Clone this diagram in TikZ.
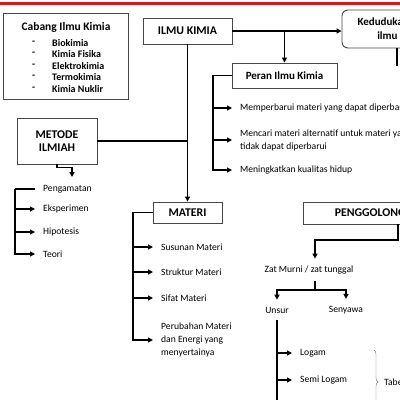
\documentclass[tikz,border=0pt]{standalone}
\usepackage{fontspec}
\setmainfont{Carlito}
\usepackage{tikz}
\usetikzlibrary{arrows.meta, positioning, calc, decorations.pathreplacing}
\definecolor{topred}{RGB}{218, 24, 24}
\definecolor{boxgray}{RGB}{70, 70, 70}
\definecolor{bracegray}{RGB}{110, 110, 110}
\tikzset{
  >=Stealth,
  flowarrow/.style={-{Stealth[length=5pt, width=5pt, inset=0pt]}, line width=1.2pt, black},
  flowline/.style={line width=1.2pt, black},
  titlebox/.style={draw=boxgray, line width=0.9pt, fill=white, inner sep=0pt, font=\fontsize{11.8}{13}\selectfont\bfseries, align=center},
  roundbox/.style={titlebox, rounded corners=6pt},
  itemtext/.style={anchor=west, inner xsep=8pt, inner ysep=0pt, font=\fontsize{9.6}{13}\selectfont, align=left},
  labeltext/.style={inner xsep=0pt, inner ysep=7pt, font=\fontsize{9.6}{13}\selectfont},
  listtext/.style={anchor=west, inner sep=0pt, font=\fontsize{10}{11}\selectfont\bfseries}
}

\begin{document}
\begin{tikzpicture}[x=1pt, y=-1pt]
    \useasboundingbox (0,0) rectangle (400,400);
    \clip (0,0) rectangle (400,400);

    % --- TOP BAR ---
    \coordinate (barL) at (0,3);
    \coordinate (barR) at (400,3);
    \draw[topred, line width=3pt] (barL) -- (barR);

    % --- CABANG ILMU KIMIA ---
    \node[titlebox, minimum width=125pt, minimum height=86pt] (cabang) at (65.5,56) {};
    \node[font=\fontsize{11.5}{13}\selectfont\bfseries] (cabangT) at (66,27) {Cabang Ilmu Kimia};
    \node[listtext] (dash1) at (32,43) {-};
    \node[listtext] (cab1) at (52,43) {Biokimia};
    \node[listtext] (dash2) at (32,54) {-};
    \node[listtext] (cab2) at (52,54) {Kimia Fisika};
    \node[listtext] (dash3) at (32,66) {-};
    \node[listtext] (cab3) at (52,66) {Elektrokimia};
    \node[listtext] (dash4) at (32,77) {-};
    \node[listtext] (cab4) at (52,77) {Termokimia};
    \node[listtext] (dash5) at (32,89) {-};
    \node[listtext] (cab5) at (52,89) {Kimia Nuklir};

    % --- ILMU KIMIA ---
    \node[titlebox, minimum width=89pt, minimum height=26pt] (ilmu) at (187.5,31) {ILMU KIMIA};
    \node[roundbox, minimum width=110pt, minimum height=38pt, font=\fontsize{11}{14}\selectfont\bfseries] (kedudukan) at (397,29) {Kedudukan kimia\\ilmu lain};
    \coordinate (keddrop) at (397,66);
    \draw[flowarrow] (ilmu.east) -- (ilmu.east -| kedudukan.west);
    \draw[flowline] (kedudukan.south) -- (keddrop);

    % --- PERAN ILMU KIMIA ---
    \node[titlebox, minimum width=105pt, minimum height=25pt, font=\fontsize{11}{13}\selectfont\bfseries] (peran) at (284.5,75.5) {Peran Ilmu Kimia};
    \draw[flowarrow] (ilmu.east -| peran.north) -- (peran.north);
    \node[itemtext] (peran1) at (232,108) {Memperbarui materi yang dapat diperbarui};
    \node[itemtext] (peran2) at (232,140) {Mencari materi alternatif untuk materi yang\\tidak dapat diperbarui};
    \node[itemtext] (peran3) at (232,170) {Meningkatkan kualitas hidup};
    \coordinate (perantrunk) at (213,75.5);
    \draw[flowarrow] (peran.west) -- (perantrunk) |- (peran3.west);
    \draw[flowarrow] (perantrunk |- peran1.west) -- (peran1.west);
    \draw[flowarrow] (perantrunk |- peran2.west) -- (peran2.west);

    % --- METODE ILMIAH ---
    \node[titlebox, minimum width=80pt, minimum height=46pt] (metode) at (57,141) {METODE\\ILMIAH};
    \coordinate (metodedrop) at (72,177);
    \draw[flowarrow] (metode.south) -- ++(0,3) -| (metodedrop);
    \node[itemtext] (amat) at (35,189) {Pengamatan};
    \node[itemtext] (eksp) at (35,209) {Eksperimen};
    \node[itemtext] (hipo) at (35,232) {Hipotesis};
    \node[itemtext] (teori) at (35,254) {Teori};
    \coordinate (metodetrunk) at (15,189);
    \draw[flowline] (amat.west) -- (metodetrunk);
    \draw[flowarrow] (metodetrunk) |- (teori.west);
    \draw[flowarrow] (metodetrunk |- eksp.west) -- (eksp.west);
    \draw[flowarrow] (metodetrunk |- hipo.west) -- (hipo.west);

    % --- MATERI ---
    \node[titlebox, minimum width=69pt, minimum height=21pt] (materi) at (187.5,212.5) {MATERI};
    \draw[flowline] (metode.east) -- (metode.east -| ilmu.south);
    \draw[flowarrow] (ilmu.south) -- (materi.north);
    \node[itemtext] (materi1) at (153,247) {Susunan Materi};
    \node[itemtext] (materi2) at (153,272) {Struktur Materi};
    \node[itemtext] (materi3) at (153,298) {Sifat Materi};
    \node[itemtext] (materi4) at (153,340) {Perubahan Materi\\dan Energi yang\\menyertainya};
    \coordinate (materitrunk) at (133,212.5);
    \draw[flowarrow] (materi.west) -- (materitrunk) |- (materi4.west);
    \draw[flowarrow] (materitrunk |- materi1.west) -- (materi1.west);
    \draw[flowarrow] (materitrunk |- materi2.west) -- (materi2.west);
    \draw[flowarrow] (materitrunk |- materi3.west) -- (materi3.west);

    % --- PENGGOLONGAN MATERI ---
    \node[titlebox, minimum width=190pt, minimum height=22pt] (golong) at (398,213) {PENGGOLONGAN MATERI};
    \node[labeltext] (zat) at (309,270) {Zat Murni / zat tunggal};
    \coordinate (golongbend) at (315,240);
    \draw[flowarrow] (golong.south) |- (golongbend) -- (golongbend |- zat.north);
    \node[labeltext] (unsur) at (277,310) {Unsur};
    \node[labeltext] (senyawa) at (346,310) {Senyawa};
    \coordinate (zatsplit) at (315,290);
    \draw[flowline] (zatsplit |- zat.south) -- (zatsplit);
    \draw[flowarrow] (zatsplit) -| (unsur.north);
    \draw[flowarrow] (zatsplit) -| (senyawa.north);

    % Unsur
    \node[itemtext] (logam) at (292,353) {Logam};
    \node[itemtext] (semi) at (292,380) {Semi Logam};
    \coordinate (unsurend) at (277,402);
    \draw[flowline] (unsur.south) -- (unsurend);
    \draw[flowarrow] (unsur.south |- logam.west) -- (logam.west);
    \draw[flowarrow] (unsur.south |- semi.west) -- (semi.west);
    \coordinate (braceTop) at (374,350);
    \coordinate (braceBot) at (374,414);
    \draw[bracegray, decorate, decoration={brace, amplitude=4pt}] (braceTop) -- (braceBot);
    \node[itemtext, inner xsep=0pt] (tabel) at (384,382) {Tabel Periodik};
\end{tikzpicture}
\end{document}
